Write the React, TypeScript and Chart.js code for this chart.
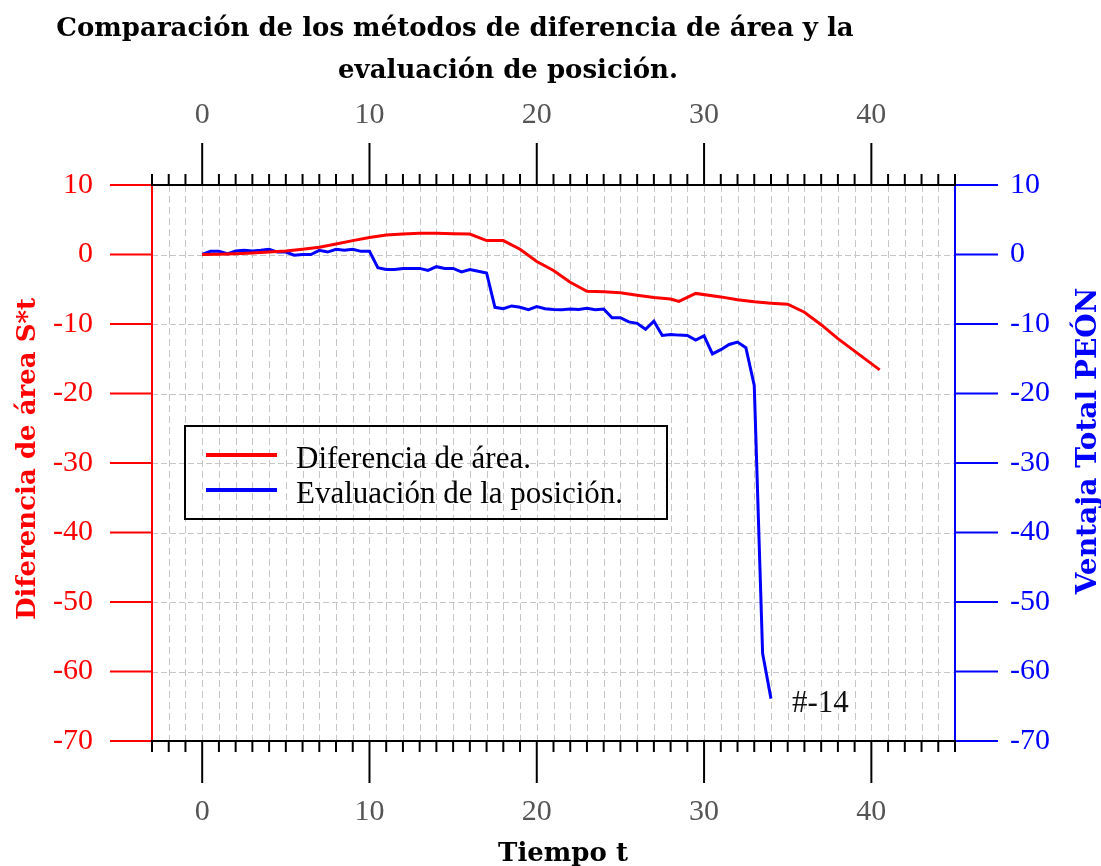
import React, { useEffect, useRef } from 'react';
import { Chart, registerables } from 'chart.js';

Chart.register(...registerables);

const W = 1101;
const H = 866;

const titleLines = ['Comparación de los métodos de diferencia de área y la', 'evaluación de posición.'];
const xTitle = 'Tiempo t';
const yLeftTitle = 'Diferencia de área S*t';
const yRightTitle = 'Ventaja Total PEÓN';
const seriesLabels = ['Diferencia de área.', 'Evaluación de la posición.'];
const annotationText = '#-14';

const xMin = -3;
const xMax = 45;
const yMin = -70;
const yMax = 10;

const areaT = [0, 1, 2, 3, 4, 5, 6, 7, 8, 9, 10, 11, 12, 13, 14, 15, 16, 17, 18, 19, 20, 21, 22, 23, 24, 25, 26, 27, 28, 28.5, 29.5, 31, 32, 33, 34, 35, 36, 37, 38, 39, 40, 40.5];
const areaV = [0, 0.05, 0.1, 0.2, 0.35, 0.5, 0.75, 1.05, 1.5, 2.0, 2.45, 2.8, 2.95, 3.05, 3.05, 3.0, 2.95, 2.0, 2.0, 0.75, -1.0, -2.3, -4.0, -5.3, -5.35, -5.5, -5.85, -6.2, -6.4, -6.75, -5.6, -6.1, -6.5, -6.8, -7.0, -7.15, -8.3, -10.1, -12.1, -13.9, -15.7, -16.6];

const posT = [0, 0.5, 1, 1.5, 2, 2.5, 3, 3.5, 4, 4.5, 5, 5.5, 6, 6.5, 7, 7.5, 8, 8.5, 9, 9.5, 10, 10.5, 11, 11.5, 12, 12.5, 13, 13.5, 14, 14.5, 15, 15.5, 16, 16.5, 17, 17.5, 18, 18.5, 19, 19.5, 20, 20.5, 21, 21.5, 22, 22.5, 23, 23.5, 24, 24.5, 25, 25.5, 26, 26.5, 27, 27.5, 28, 28.5, 29, 29.5, 30, 30.5, 31, 31.5, 32, 32.5, 33, 33.5, 34];
const posV = [0, 0.45, 0.45, 0.1, 0.5, 0.6, 0.5, 0.6, 0.75, 0.35, 0.35, -0.1, 0.0, 0.0, 0.6, 0.35, 0.75, 0.6, 0.75, 0.45, 0.45, -1.9, -2.15, -2.15, -2.0, -2.0, -2.0, -2.3, -1.75, -2.0, -2.0, -2.5, -2.15, -2.4, -2.65, -7.6, -7.8, -7.4, -7.6, -7.95, -7.5, -7.8, -7.9, -7.95, -7.85, -7.9, -7.75, -7.95, -7.85, -9.1, -9.1, -9.7, -9.9, -10.75, -9.6, -11.65, -11.5, -11.6, -11.65, -12.3, -11.7, -14.3, -13.7, -12.95, -12.6, -13.4, -18.85, -57.4, -63.9];

const RED = '#ff0000';
const BLUE = '#0000ff';
const SERIF = '"Liberation Serif", serif';
const BOLD_SERIF = '"DejaVu Serif", serif';

function seg(ctx: CanvasRenderingContext2D, x1: number, y1: number, x2: number, y2: number) {
  ctx.beginPath();
  ctx.moveTo(x1, y1);
  ctx.lineTo(x2, y2);
  ctx.stroke();
}

const decorPlugin = {
  id: 'decor',
  beforeDatasetsDraw(chart: any) {
    const { ctx, chartArea: a, scales } = chart;
    const x = scales.x;
    const y = scales.y;
    ctx.save();
    ctx.lineWidth = 1;
    ctx.strokeStyle = '#c6c6c6';
    ctx.setLineDash([7, 4]);
    for (let v = xMin + 1; v < xMax; v++) {
      const px = Math.round(x.getPixelForValue(v)) + 0.5;
      seg(ctx, px, a.top, px, a.bottom);
    }
    ctx.setLineDash([6, 3]);
    for (let v = yMin + 10; v < yMax; v += 10) {
      const py = Math.round(y.getPixelForValue(v)) + 0.5;
      seg(ctx, a.left, py, a.right, py);
    }
    ctx.restore();
  },
  afterDraw(chart: any) {
    const { ctx, chartArea: a, scales } = chart;
    const x = scales.x;
    const y = scales.y;
    const y2 = scales.y2;
    ctx.save();
    ctx.setLineDash([]);
    ctx.lineCap = 'butt';

    // left axis (red)
    ctx.strokeStyle = RED;
    ctx.lineWidth = 2;
    seg(ctx, a.left, a.top, a.left, a.bottom);
    y.ticks.forEach((t: any) => {
      const py = y.getPixelForValue(t.value);
      seg(ctx, a.left - 42, py, a.left, py);
    });

    // right axis (blue)
    ctx.strokeStyle = BLUE;
    seg(ctx, a.right, a.top, a.right, a.bottom);
    y2.ticks.forEach((t: any) => {
      const py = y2.getPixelForValue(t.value);
      seg(ctx, a.right, py, a.right + 43, py);
    });

    // top / bottom axes (black)
    ctx.strokeStyle = '#000';
    seg(ctx, a.left - 1, a.top, a.right + 1, a.top);
    seg(ctx, a.left - 1, a.bottom, a.right + 1, a.bottom);
    for (let v = xMin; v <= xMax; v++) {
      const px = x.getPixelForValue(v);
      const len = v % 10 === 0 ? 42 : 11;
      seg(ctx, px, a.top, px, a.top - len);
      seg(ctx, px, a.bottom, px, a.bottom + len);
    }

    // legend
    const lx = a.left + 33;
    const ly = a.top + 241;
    ctx.lineWidth = 2;
    ctx.strokeStyle = '#000';
    ctx.strokeRect(lx, ly, 482, 93);
    chart.data.datasets.forEach((ds: any, i: number) => {
      const yy = ly + 29 + i * 35;
      ctx.strokeStyle = ds.borderColor;
      ctx.lineWidth = 4;
      seg(ctx, lx + 21, yy, lx + 92, yy);
      ctx.fillStyle = '#000';
      ctx.font = '31px ' + SERIF;
      ctx.textAlign = 'left';
      ctx.textBaseline = 'alphabetic';
      ctx.fillText(ds.label, lx + 111, yy + 13);
    });

    // annotation at the last evaluation point
    const meta = chart.getDatasetMeta(1);
    const last = meta.data[meta.data.length - 1];
    ctx.fillStyle = '#111';
    ctx.font = '31px ' + SERIF;
    ctx.textAlign = 'left';
    ctx.textBaseline = 'alphabetic';
    ctx.fillText(annotationText, last.x + 21, last.y + 13);

    // titles
    ctx.fillStyle = '#000';
    ctx.font = 'bold 26px ' + BOLD_SERIF;
    ctx.textAlign = 'center';
    ctx.fillText(titleLines[0], 455, 36);
    ctx.fillText(titleLines[1], 508, 78);

    ctx.font = 'bold 26px ' + BOLD_SERIF;
    ctx.fillText(xTitle, 563, 861);

    ctx.save();
    ctx.fillStyle = RED;
    ctx.translate(35, (a.top + a.bottom) / 2 - 4);
    ctx.rotate(-Math.PI / 2);
    ctx.fillText(yLeftTitle, 0, 0);
    ctx.restore();

    ctx.save();
    ctx.fillStyle = BLUE;
    ctx.font = 'bold 28px ' + BOLD_SERIF;
    ctx.translate(1096, 441);
    ctx.rotate(-Math.PI / 2);
    ctx.fillText(yRightTitle, 0, 0);
    ctx.restore();

    ctx.restore();
  },
};

const tickFont = { family: SERIF, size: 30 };

function xScale(position: 'top' | 'bottom', size: number, padding: number) {
  return {
    type: 'linear',
    position,
    min: xMin,
    max: xMax,
    grid: { display: false, drawTicks: false },
    border: { display: false },
    ticks: {
      stepSize: 10,
      includeBounds: false,
      autoSkip: false,
      maxRotation: 0,
      color: '#555555',
      font: tickFont,
      padding,
    },
    afterFit(s: any) {
      s.height = size;
    },
  };
}

function yScale(position: 'left' | 'right', size: number, padding: number, color: string) {
  return {
    type: 'linear',
    position,
    min: yMin,
    max: yMax,
    grid: { display: false, drawTicks: false },
    border: { display: false },
    ticks: {
      stepSize: 10,
      color,
      font: tickFont,
      padding,
    },
    afterFit(s: any) {
      s.width = size;
    },
  };
}

export default function App() {
  const ref = useRef<HTMLCanvasElement | null>(null);

  useEffect(() => {
    if (!ref.current) return;
    const chart = new Chart(ref.current, {
      type: 'line',
      data: {
        datasets: [
          {
            label: seriesLabels[0],
            data: areaT.map((t, i) => ({ x: t, y: areaV[i] })),
            borderColor: RED,
            backgroundColor: RED,
            borderWidth: 3,
            pointRadius: 0,
            tension: 0,
            xAxisID: 'x',
            yAxisID: 'y',
          },
          {
            label: seriesLabels[1],
            data: posT.map((t, i) => ({ x: t, y: posV[i] })),
            borderColor: BLUE,
            backgroundColor: BLUE,
            borderWidth: 3,
            pointRadius: 0,
            tension: 0,
            xAxisID: 'x',
            yAxisID: 'y2',
          },
        ],
      },
      options: {
        responsive: false,
        animation: false,
        devicePixelRatio: 1,
        layout: { padding: 0 },
        plugins: {
          legend: { display: false },
          title: { display: false },
          tooltip: { enabled: false },
        },
        scales: {
          x: xScale('bottom', H - 741, 53),
          x2: xScale('top', 185, 52),
          y: yScale('left', 152, 59, RED),
          y2: yScale('right', W - 955, 55, BLUE),
        } as any,
      },
      plugins: [decorPlugin],
    } as any);
    return () => chart.destroy();
  }, []);

  return (
    <div style={{ position: 'absolute', left: 0, top: 0, width: W, height: H, background: '#fff' }}>
      <canvas ref={ref} width={W} height={H} style={{ width: W, height: H, display: 'block' }} />
    </div>
  );
}
